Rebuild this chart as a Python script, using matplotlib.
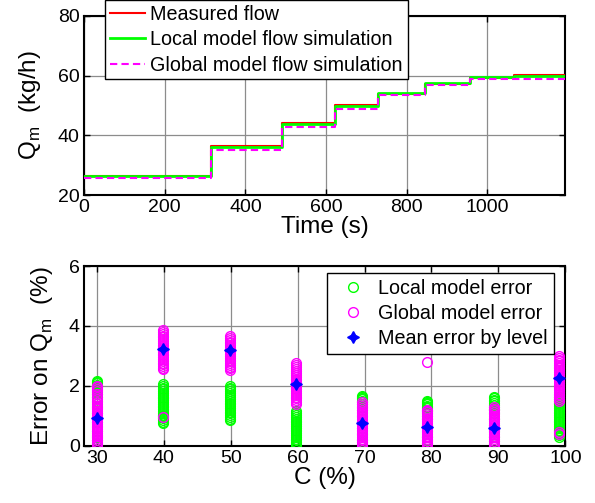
import matplotlib
matplotlib.use("Agg")
import matplotlib.pyplot as plt

plt.rcParams['font.family'] = ['Liberation Sans', 'DejaVu Sans']
plt.rcParams['mathtext.fontset'] = 'custom'
plt.rcParams['mathtext.rm'] = 'Liberation Sans'

# ---- Top panel: step levels of flow (kg/h) ----
step_edges = [0, 315, 490, 622, 728, 845, 957, 1066, 1193]
measured_levels = [26.4, 36.5, 44.2, 50.1, 53.9, 57.2, 59.2, 60.3]
local_levels = [26.6, 36.0, 43.8, 49.8, 54.3, 57.5, 59.4, 59.7]
global_levels = [25.9, 35.2, 42.9, 48.9, 53.5, 56.8, 58.8, 58.8]

# ---- Bottom panel: errors by opening level C (%) ----
c_levels = [30.1, 39.9, 49.85, 59.7, 69.6, 79.3, 89.4, 99.0]
local_err = [
    [0.0, 0.04, 0.1, 0.18, 0.28, 0.5, 0.8, 1.1, 1.3, 1.5, 1.62, 1.72, 1.8, 1.87, 1.93,
     1.98, 2.03, 2.08, 2.12, 2.15],
    [0.75, 0.8, 0.86, 0.92, 0.98, 1.04, 1.1, 1.16, 1.22, 1.28, 1.34, 1.4, 1.46, 1.52,
     1.58, 1.64, 1.7, 1.76, 1.82, 1.88, 1.94, 2.0, 2.05],
    [0.85, 0.9, 0.96, 1.02, 1.08, 1.14, 1.2, 1.26, 1.32, 1.38, 1.44, 1.5, 1.56, 1.62,
     1.68, 1.75, 1.82, 1.88, 1.94, 2.0],
    [0.0, 0.03, 0.07, 0.12, 0.18, 0.24, 0.3, 0.36, 0.42, 0.48, 0.54, 0.6, 0.66, 0.72,
     0.78, 0.84, 0.9, 0.96, 1.02, 1.08, 1.15],
    [0.05, 0.12, 0.2, 0.4, 0.6, 0.8, 1.0, 1.2, 1.3, 1.38, 1.45, 1.5, 1.55, 1.6, 1.64, 1.67],
    [0.1, 0.2, 0.3, 0.5, 0.7, 0.9, 1.0, 1.08, 1.15, 1.2, 1.25, 1.3, 1.34, 1.38, 1.42, 1.45, 1.48],
    [0.05, 0.15, 0.3, 0.5, 0.7, 0.9, 1.1, 1.18, 1.24, 1.3, 1.36, 1.42, 1.48, 1.53, 1.58, 1.63],
    [0.3, 0.36, 0.42, 0.48, 0.54, 0.6, 0.66, 0.72, 0.78, 0.84, 0.9, 0.96, 1.02, 1.08,
     1.14, 1.2, 1.26, 1.32, 1.38, 1.44, 1.5, 1.56, 1.62],
]
global_err = [
    [0.02, 0.07, 0.13, 0.19, 0.25, 0.31, 0.37, 0.43, 0.49, 0.55, 0.61, 0.67, 0.73, 0.79,
     0.85, 0.91, 0.97, 1.03, 1.09, 1.15, 1.21, 1.27, 1.33, 1.4, 1.47, 1.55, 1.63, 1.72,
     1.82, 1.9, 1.96, 2.0],
    [0.97, 2.55, 2.6, 2.66, 2.72, 2.78, 2.84, 2.9, 2.96, 3.02, 3.08, 3.14, 3.2, 3.26, 3.32,
     3.38, 3.44, 3.5, 3.56, 3.62, 3.68, 3.74, 3.8, 3.85],
    [2.52, 2.58, 2.64, 2.7, 2.76, 2.82, 2.88, 2.94, 3.0, 3.06, 3.12, 3.18, 3.24, 3.3, 3.36,
     3.42, 3.48, 3.54, 3.6, 3.67],
    [1.4, 1.46, 1.52, 1.58, 1.64, 1.7, 1.76, 1.82, 1.88, 1.94, 2.0, 2.06, 2.12, 2.18, 2.24,
     2.3, 2.36, 2.42, 2.48, 2.55, 2.62, 2.68, 2.75],
    [0.0, 0.06, 0.12, 0.18, 0.24, 0.3, 0.36, 0.42, 0.48, 0.54, 0.6, 0.66, 0.72, 0.78, 0.84,
     0.9, 0.96, 1.02, 1.08, 1.14, 1.2, 1.26, 1.32, 1.38, 1.45],
    [0.0, 0.05, 0.1, 0.16, 0.22, 0.28, 0.34, 0.4, 0.46, 0.52, 0.58, 0.64, 0.7, 0.76, 0.82,
     0.88, 0.94, 1.0, 1.06, 1.12, 1.17, 1.2, 2.8],
    [0.0, 0.05, 0.1, 0.16, 0.22, 0.28, 0.34, 0.4, 0.46, 0.52, 0.58, 0.64, 0.7, 0.76, 0.82,
     0.88, 0.94, 1.0, 1.06, 1.12, 1.18, 1.24, 1.3],
    [0.4, 0.45, 1.5, 1.56, 1.62, 1.68, 1.74, 1.8, 1.86, 1.92, 1.98, 2.04, 2.1, 2.16, 2.22,
     2.28, 2.34, 2.4, 2.46, 2.52, 2.58, 2.64, 2.7, 2.76, 2.82, 2.88, 2.94, 3.0],
]
mean_err = [0.93, 3.22, 3.2, 2.05, 0.75, 0.62, 0.6, 2.25]

fig = plt.figure(figsize=(5.95, 5.03), dpi=100)
ax1 = fig.add_axes([0.1412, 0.6117, 0.809, 0.357])
ax2 = fig.add_axes([0.1412, 0.1139, 0.809, 0.357])

GREEN = (0, 1, 0)
MAG = (1, 0, 1)
grid_kw = dict(color=(0.55, 0.55, 0.55), linewidth=0.9)
FS_TICK = 14
FS_LAB = 17.5
FS_LEG = 14.2


def stepline(levels):
    return step_edges, list(levels) + [levels[-1]]


xs, ys = stepline(measured_levels)
ax1.step(xs, ys, where='post', color='red', lw=1.5, label='Measured flow', zorder=3)
xs, ys = stepline(local_levels)
ax1.step(xs, ys, where='post', color=GREEN, lw=2.0, label='Local model flow simulation', zorder=4)
xs, ys = stepline(global_levels)
ax1.step(xs, ys, where='post', color=MAG, lw=1.5, ls=(0, (3.5, 2)),
         label='Global model flow simulation', zorder=5)

ax1.set_xlim(0, 1193)
ax1.set_ylim(20, 80)
ax1.set_xticks([0, 200, 400, 600, 800, 1000])
ax1.set_yticks([20, 40, 60, 80])
ax1.grid(True, **grid_kw)
ax1.set_axisbelow(True)
ax1.set_xlabel('Time (s)', fontsize=FS_LAB, labelpad=0)
ax1.set_ylabel(r'Q$_\mathregular{m}$  (kg/h)', fontsize=FS_LAB, labelpad=11)

leg1 = fig.legend(loc='upper left', bbox_to_anchor=(105 / 595, 1.0), fontsize=FS_LEG,
                  frameon=True, fancybox=False, edgecolor='black', framealpha=1,
                  borderaxespad=0, handlelength=1.8, labelspacing=0.32,
                  borderpad=0.25, handletextpad=0.25)
leg1.get_frame().set_linewidth(1.0)

# bottom panel
for i, c in enumerate(c_levels):
    ax2.plot([c] * len(local_err[i]), local_err[i], 'o', mfc='none', mec=GREEN,
             ms=7, mew=1.0, label='Local model error' if i == 0 else None, zorder=3)
for i, c in enumerate(c_levels):
    ax2.plot([c] * len(global_err[i]), global_err[i], 'o', mfc='none', mec=MAG,
             ms=7, mew=1.0, label='Global model error' if i == 0 else None, zorder=4)
ax2.plot(c_levels, mean_err, ls='none', marker=(4, 1, 0), color='blue', ms=8.5,
         label='Mean error by level', zorder=5)

ax2.set_xlim(28.1, 100)
ax2.set_ylim(0, 6)
ax2.set_xticks([30, 40, 50, 60, 70, 80, 90, 100])
ax2.set_yticks([0, 2, 4, 6])
ax2.grid(True, **grid_kw)
ax2.set_axisbelow(True)
ax2.set_xlabel('C (%)', fontsize=FS_LAB, labelpad=0)
ax2.set_ylabel(r'Error on Q$_\mathregular{m}$  (%)', fontsize=FS_LAB, labelpad=10)

leg2 = ax2.legend(loc='upper left', bbox_to_anchor=(327 / 595, 1 - 273 / 503),
                  bbox_transform=fig.transFigure, fontsize=FS_LEG,
                  frameon=True, fancybox=False, edgecolor='black', framealpha=1,
                  borderaxespad=0, handlelength=2.0, labelspacing=0.3,
                  borderpad=0.3, handletextpad=0.3)
leg2.get_frame().set_linewidth(1.0)

for ax in (ax1, ax2):
    ax.tick_params(direction='in', top=True, right=True, labelsize=FS_TICK, length=4,
                   width=1, pad=3)
    for s in ax.spines.values():
        s.set_linewidth(1.5)

fig.savefig('out.png', dpi=100)
